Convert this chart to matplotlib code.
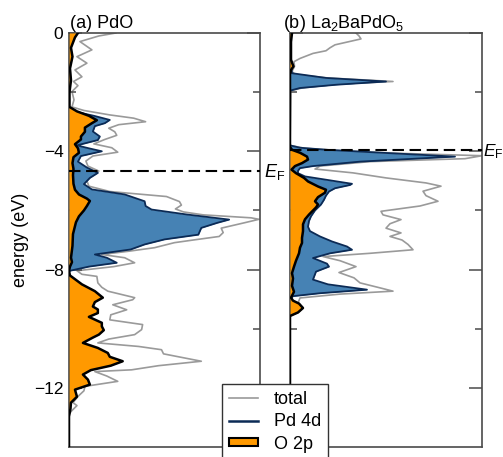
import numpy as np
import matplotlib.pyplot as plt
from matplotlib.lines import Line2D
from matplotlib.patches import Patch
import matplotlib.transforms as mtransforms

plt.rcParams['font.family'] = ['Liberation Sans', 'DejaVu Sans']
plt.rcParams['mathtext.fontset'] = 'custom'
plt.rcParams['mathtext.rm'] = 'Liberation Sans'
plt.rcParams['mathtext.it'] = 'Liberation Sans:italic'
plt.rcParams['font.size'] = 12

# ---- (a) PdO ----
e_tot_a = [0.0, -0.1, -0.29, -0.57, -0.8, -1.02, -1.25, -1.48, -1.64, -1.78, -1.98, -2.26, -2.5,
           -2.62, -2.77, -2.88, -3.0, -3.1, -3.22, -3.34, -3.46, -3.6, -3.75, -3.88, -4.03, -4.16,
           -4.33, -4.5, -4.67, -4.84, -5.0, -5.18, -5.36, -5.53, -5.7, -5.82, -5.95, -6.05, -6.15,
           -6.25, -6.3, -6.42, -6.6, -6.75, -6.88, -7.0, -7.09, -7.26, -7.38, -7.49, -7.6, -7.77,
           -7.9, -8.04, -8.16, -8.23, -8.45, -8.6, -8.73, -8.95, -9.02, -9.19, -9.36, -9.53, -9.7,
           -9.86, -10.03, -10.2, -10.35, -10.48, -10.6, -10.71, -10.85, -11.1, -11.25, -11.39,
           -11.45, -11.6, -11.78, -11.95, -12.1, -12.29, -12.5, -12.6, -12.8, -12.9, -14.0]
dos_tot_a = [4.7, 3.0, 1.1, 2.3, 0.8, 1.8, 0.6, 1.3, 0.45, 0.9, 0.3, 0.5, 0.3,
             1.5, 4.1, 6.5, 7.7, 5.0, 4.0, 4.6, 4.8, 3.6, 2.5, 4.3, 4.9, 2.4,
             1.7, 1.9, 3.0, 1.9, 1.8, 2.0, 4.1, 9.8, 11.1, 11.3, 10.7, 11.5, 13.5,
             18.3, 19.1, 17.6, 15.3, 15.5, 15.1, 12.5, 10.6, 8.6, 6.0, 3.3, 5.6, 6.6,
             4.5, 0.8, 1.3, 2.8, 2.9, 3.3, 3.9, 6.6, 6.4, 4.4, 5.8, 4.2, 4.1,
             7.4, 7.3, 6.6, 4.0, 2.9, 7.0, 9.3, 9.5, 13.3, 9.0, 6.3,
             2.6, 3.8, 4.9, 1.6, 1.5, 0.9, 0.4, 0.8, 0.2, 0.0, 0.0]

e_pd_a = [0.0, -2.5, -2.65, -2.8, -2.94, -3.05, -3.15, -3.33, -3.5, -3.62, -3.8, -3.9, -4.0,
          -4.16, -4.35, -4.55, -4.73, -4.9, -5.11, -5.29, -5.46, -5.69, -5.85, -5.97, -6.14,
          -6.31, -6.42, -6.59, -6.82, -6.98, -7.15, -7.32, -7.49, -7.6, -7.77, -7.9, -8.04,
          -8.1, -14.0]
dos_pd_a = [0.0, 0.0, 0.5, 2.5, 4.1, 3.6, 2.6, 2.4, 3.1, 2.9, 0.8, 2.0, 3.3,
            1.2, 0.9, 1.8, 2.9, 2.1, 1.5, 2.3, 5.6, 7.6, 7.7, 8.3, 11.9,
            16.1, 14.9, 13.3, 13.0, 9.6, 7.6, 6.2, 2.6, 3.8, 4.8, 2.0, 0.1,
            0.0, 0.0]

e_o_a = [0.0, -0.15, -0.5, -0.8, -1.2, -1.6, -2.0, -2.5, -2.65, -2.8, -2.95, -3.05, -3.2,
         -3.34, -3.5, -3.6, -3.76, -3.9, -4.05, -4.2, -4.4, -4.6, -4.8, -5.1, -5.3, -5.46,
         -5.6, -5.68, -5.85, -6.0, -6.2, -6.4, -6.8, -7.2, -7.6, -7.75, -7.9, -8.05, -8.2,
         -8.35, -8.5, -8.73, -8.95, -9.1, -9.25, -9.35, -9.47, -9.6, -9.8, -9.92, -10.05,
         -10.2, -10.3, -10.48, -10.65, -10.82, -10.95, -11.1, -11.25, -11.4, -11.55, -11.72,
         -11.89, -12.06, -12.3, -12.5, -12.7, -12.97, -14.0]
dos_o_a = [0.9, 0.6, 0.2, 0.35, 0.1, 0.2, 0.05, 0.05, 0.8, 2.0, 2.8, 2.3, 1.6,
           1.6, 1.2, 1.2, 0.6, 0.9, 1.0, 0.45, 0.35, 0.45, 0.4, 0.45, 0.6, 1.0,
           1.8, 2.1, 1.8, 1.5, 1.0, 0.7, 0.4, 0.35, 0.2, 0.3, 0.1, 0.0, 0.1,
           0.7, 1.3, 2.6, 3.4, 2.6, 2.4, 2.9, 2.9, 2.0, 3.3, 3.3, 3.5,
           3.0, 2.4, 1.4, 2.9, 3.9, 4.1, 5.4, 4.2, 2.2, 1.4, 1.9,
           2.1, 0.6, 0.8, 0.2, 0.15, 0.0, 0.0]

# ---- (b) La2BaPdO5 ----
e_tot_b = [0.0, -0.1, -0.2, -0.3, -0.4, -0.5, -0.6, -0.69, -0.86, -0.97, -1.13, -1.3, -1.4,
           -1.52, -1.64, -1.72, -1.86, -1.95, -3.8, -3.9, -4.0, -4.07, -4.15, -4.25, -4.35,
           -4.5, -4.6, -4.73, -4.9, -5.07, -5.18, -5.35, -5.5, -5.69, -5.85, -6.03, -6.15,
           -6.31, -6.45, -6.6, -6.76, -6.88, -7.0, -7.15, -7.33, -7.45, -7.56, -7.7, -7.9,
           -8.1, -8.28, -8.45, -8.61, -8.73, -8.83, -8.96, -9.13, -9.3, -9.45, -9.57, -14.0]
dos_tot_b = [6.6, 6.9, 7.1, 5.8, 4.5, 4.0, 3.6, 2.3, 1.0, 0.4, 0.45, 0.2, 0.5,
             3.8, 10.3, 5.0, 1.2, 0.1, 0.0, 1.5, 6.0, 11.0, 19.2, 17.5, 8.0,
             3.0, 2.5, 6.3, 9.6, 13.6, 15.1, 13.3, 13.6, 14.8, 13.0, 9.1, 9.3,
             11.1, 10.0, 9.6, 11.1, 10.0, 11.2, 11.8, 12.3, 8.0, 3.3, 5.0, 6.6,
             4.9, 6.4, 7.0, 8.9, 10.3, 5.0, 1.0, 0.8, 1.3, 0.8, 0.0, 0.0]

e_pd_b = [0.0, -0.5, -1.0, -1.36, -1.52, -1.64, -1.75, -1.86, -1.95, -3.8, -3.88, -3.95,
          -4.07, -4.18, -4.26, -4.35, -4.5, -4.57, -4.66, -4.74, -4.85, -5.02, -5.1, -5.14,
          -5.25, -5.36, -5.5, -5.64, -5.8, -6.0, -6.2, -6.36, -6.55, -6.7, -6.88, -7.05,
          -7.22, -7.33, -7.45, -7.61, -7.8, -7.9, -8.07, -8.34, -8.5, -8.68, -8.8, -8.9,
          -9.0, -14.0]
dos_pd_b = [0.1, 0.1, 0.05, 0.2, 3.6, 9.6, 4.6, 1.0, 0.0, 0.0, 1.0, 3.7,
            10.3, 16.5, 12.0, 7.0, 2.3, 1.0, 0.8, 0.8, 1.5, 4.7, 6.2, 6.0,
            4.5, 3.9, 3.6, 3.4, 3.1, 2.5, 2.1, 1.9, 1.8, 2.0, 3.0, 4.2,
            5.7, 6.2, 4.0, 2.3, 3.7, 3.9, 2.6, 2.3, 3.8, 7.7, 3.0, 0.3,
            0.0, 0.0]

e_o_b = [0.0, -0.3, -0.9, -1.0, -1.13, -1.25, -1.4, -3.85, -3.95, -4.05, -4.18, -4.28, -4.4,
         -4.5, -4.62, -4.74, -4.9, -5.02, -5.19, -5.3, -5.4, -5.55, -5.69, -5.8, -5.9, -6.14,
         -6.3, -6.47, -6.7, -6.93, -7.1, -7.26, -7.45, -7.7, -7.9, -8.12, -8.3, -8.55, -8.75,
         -8.95, -9.05, -9.15, -9.3, -9.45, -9.57, -14.0]
dos_o_b = [0.2, 0.1, 0.1, 0.2, 0.35, 0.1, 0.0, 0.0, 0.2, 1.0, 1.7, 1.8, 1.2,
           0.5, 0.15, 0.6, 1.4, 1.8, 2.8, 3.6, 3.5, 2.8, 2.5, 2.8, 2.6, 1.9,
           1.5, 1.3, 1.3, 1.2, 1.2, 1.0, 0.9, 0.6, 0.4, 0.2, 0.3, 0.2, 0.4,
           0.1, 0.3, 0.9, 1.3, 0.8, 0.0, 0.0]

fermi_a = -4.65
fermi_b = -3.95

fig = plt.figure(figsize=(5.03, 4.57), dpi=100)
ax_a = fig.add_axes([69/503, 10/457, 191/503, 414/457])
ax_b = fig.add_axes([290/503, 10/457, 192/503, 414/457])

spine_col = '#4a4a4a'


def draw_panel(ax, e_tot, d_tot, e_pd, d_pd, e_o, d_o, ef, ef_dx, ef_size):
    ax.plot(d_tot, e_tot, color='#9a9a9a', lw=1.2, zorder=1)
    ax.fill_betweenx(e_pd, 0, d_pd, color='#4682b4', lw=0, zorder=2)
    ax.plot(d_pd, e_pd, color='#0b2a55', lw=1.3, zorder=3)
    ax.fill_betweenx(e_o, 0, d_o, color='#ff9900', lw=0, zorder=4)
    ax.plot(d_o, e_o, color='black', lw=1.8, zorder=5)
    ax.axhline(ef, color='black', lw=1.5, ls=(0, (5.5, 2.7)), zorder=6, clip_on=False)
    trans = mtransforms.blended_transform_factory(ax.transAxes, ax.transData)
    ax.text(1 + ef_dx, ef - 0.22, r'$E_\mathrm{F}$', transform=trans, fontsize=ef_size,
            ha='left', va='baseline')
    ax.set_xlim(0, 19.2)
    ax.set_ylim(-14, 0)
    ax.set_xticks([])
    ax.set_yticks([0, -4, -8, -12])
    ax.set_yticks([-2, -6, -10], minor=True)
    ax.tick_params(axis='y', which='major', direction='in', length=9.5, width=1.1,
                   color=spine_col, left=True, right=True, pad=4, labelsize=12.5)
    ax.tick_params(axis='y', which='minor', direction='in', length=5, width=1.1,
                   color=spine_col, left=True, right=True)
    for s in ax.spines.values():
        s.set_color(spine_col)
        s.set_linewidth(1.2)


draw_panel(ax_a, e_tot_a, dos_tot_a, e_pd_a, dos_pd_a, e_o_a, dos_o_a, fermi_a, 0.022, 13)
draw_panel(ax_b, e_tot_b, dos_tot_b, e_pd_b, dos_pd_b, e_o_b, dos_o_b, fermi_b, 0.004, 12.5)
ax_b.tick_params(axis='y', labelleft=False)

fig.text(70/503, 1 - 28/457, '(a) PdO', fontsize=13, ha='left', va='baseline')
fig.text(283/503, 1 - 28/457, r'(b) La$_2$BaPdO$_5$', fontsize=13, ha='left', va='baseline')
fig.text(21/503, 1 - 240/457, 'energy (eV)', fontsize=13, rotation=90, ha='center', va='center')

handles = [Line2D([], [], color='#9a9a9a', lw=1.2),
           Line2D([], [], color='#0b2a55', lw=1.8),
           Patch(facecolor='#ff9900', edgecolor='black', lw=1.5)]
labels = ['total', 'Pd 4d', 'O 2p']
leg = fig.legend(handles, labels, loc='upper left', bbox_to_anchor=(222/503, 1 - 384/457),
                 borderaxespad=0, fontsize=13, fancybox=False, framealpha=1,
                 edgecolor='#333333', handlelength=1.6, handletextpad=0.9,
                 handleheight=0.35, borderpad=0.38, labelspacing=0.3)
leg.get_frame().set_linewidth(1.0)

fig.savefig('out.png', dpi=100)
